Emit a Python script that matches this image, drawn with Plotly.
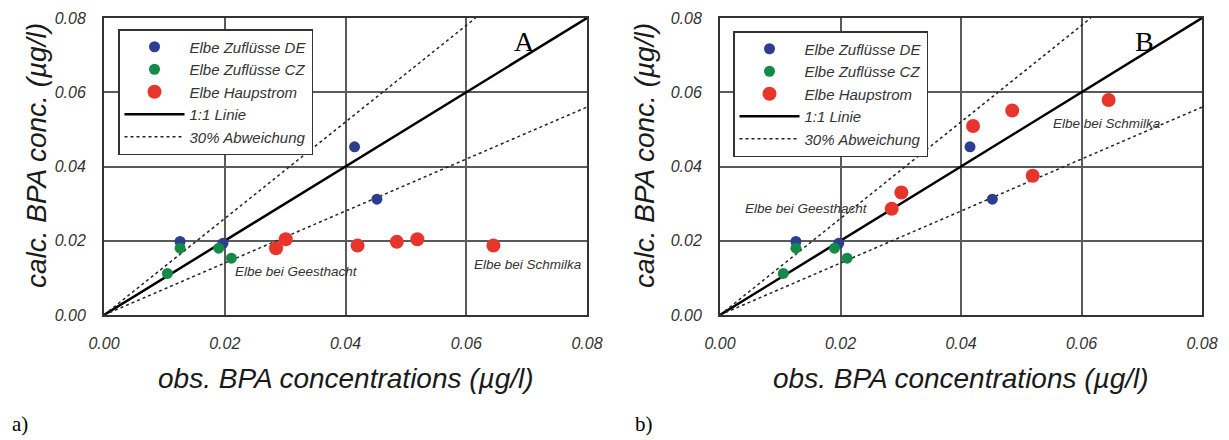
import plotly.graph_objects as go

# ---------------- data ----------------
de_obs = [0.0126, 0.0197, 0.0415, 0.0452]
de_calc = [0.0198, 0.0193, 0.0453, 0.0312]

cz_obs = [0.0126, 0.0190, 0.0211, 0.0105]
cz_calc = [0.0180, 0.0180, 0.0153, 0.0112]

main_obs = [0.0285, 0.0301, 0.0420, 0.0485, 0.0519, 0.0645]
main_calc_a = [0.0180, 0.0204, 0.0187, 0.0197, 0.0204, 0.0187]
main_calc_b = [0.0286, 0.0330, 0.0509, 0.0551, 0.0375, 0.0579]

axis_max = 0.08
dev = 0.30
tick_vals = [0.00, 0.02, 0.04, 0.06, 0.08]
tick_text = ["0.00", "0.02", "0.04", "0.06", "0.08"]

names = ["Elbe Zuflüsse DE", "Elbe Zuflüsse CZ", "Elbe Haupstrom", "1:1 Linie", "30% Abweichung"]

# ---------------- style ----------------
SANS = "Liberation Sans, Arial, sans-serif"
SERIF = "Liberation Serif, Times New Roman, serif"
C_DE = "#2c3d92"
C_CZ = "#148a48"
C_MAIN = "#e8352c"

PAGE_W, PAGE_H = 1229, 440
OFF = 8  # default page body margin
W, H = PAGE_W - OFF, PAGE_H - OFF


def px(p):
    return (p - OFF) / W


def py(p):
    return 1 - (p - OFF) / H


dom_a = [px(104), px(587)]
dom_b = [px(720), px(1202)]
dom_y = [py(315), py(18)]

fig = go.Figure()

one_x = [0, axis_max]
one_y = [0, axis_max]
dev_x = [0, axis_max / (1 + dev), None, 0, axis_max]
dev_y = [0, axis_max, None, 0, axis_max * (1 - dev)]


def add_panel(xa, ya, legend, main_calc):
    # lines first so that the points are drawn on top
    fig.add_trace(go.Scatter(x=one_x, y=one_y, mode="lines", name=names[3],
                             line=dict(color="black", width=2.5), xaxis=xa, yaxis=ya,
                             legend=legend, legendrank=4))
    fig.add_trace(go.Scatter(x=dev_x, y=dev_y, mode="lines", name=names[4],
                             line=dict(color="#222", width=1.5, dash="dot"), xaxis=xa, yaxis=ya,
                             legend=legend, legendrank=5))
    fig.add_trace(go.Scatter(x=de_obs, y=de_calc, mode="markers", name=names[0],
                             marker=dict(color=C_DE, size=11), xaxis=xa, yaxis=ya,
                             legend=legend, legendrank=1))
    fig.add_trace(go.Scatter(x=cz_obs, y=cz_calc, mode="markers", name=names[1],
                             marker=dict(color=C_CZ, size=11), xaxis=xa, yaxis=ya,
                             legend=legend, legendrank=2))
    fig.add_trace(go.Scatter(x=main_obs, y=main_calc, mode="markers", name=names[2],
                             marker=dict(color=C_MAIN, size=14), xaxis=xa, yaxis=ya,
                             legend=legend, legendrank=3))


add_panel("x", "y", "legend", main_calc_a)
add_panel("x2", "y2", "legend2", main_calc_b)

axis_common = dict(range=[0, axis_max], tickvals=tick_vals, ticktext=tick_text,
                   showgrid=True, gridcolor="#5a5a5a", gridwidth=1.5, zeroline=False,
                   showline=True, mirror=True, linecolor="#333", linewidth=2,
                   ticks="", tickfont=dict(family=SANS, size=16, color="#333", style="italic"))

fig.update_layout(
    width=W, height=H, margin=dict(l=0, r=0, t=0, b=0, autoexpand=False),
    paper_bgcolor="white", plot_bgcolor="white", showlegend=True,
    xaxis=dict(domain=dom_a, anchor="y", ticklabelstandoff=13, **axis_common),
    yaxis=dict(domain=dom_y, anchor="x", ticklabelstandoff=13, **axis_common),
    xaxis2=dict(domain=dom_b, anchor="y2", ticklabelstandoff=13, **axis_common),
    yaxis2=dict(domain=dom_y, anchor="x2", ticklabelstandoff=13, **axis_common),
)

legend_common = dict(bgcolor="white", bordercolor="#333", borderwidth=1.5,
                     font=dict(family=SANS, size=15, color="#333", style="italic"),
                     itemwidth=60, traceorder="normal",
                     xanchor="left", yanchor="top", xref="paper", yref="paper")
fig.update_layout(
    legend=dict(x=px(118), y=py(29), **legend_common),
    legend2=dict(x=px(733), y=py(31), **legend_common),
)

ann_font = dict(family=SANS, size=13.5, color="#333", style="italic")
title_font = dict(family=SANS, size=28, color="#1a1a1a", style="italic")
annotations = [
    # panel A
    dict(x=0.0319, y=0.0117, xref="x", yref="y", text="Elbe bei Geesthacht", showarrow=False, font=ann_font),
    dict(x=0.0703, y=0.0137, xref="x", yref="y", text="Elbe bei Schmilka", showarrow=False, font=ann_font),
    dict(x=0.0697, y=0.0738, xref="x", yref="y", text="A", showarrow=False,
         font=dict(family=SERIF, size=28, color="black")),
    # panel B
    dict(x=0.0144, y=0.0286, xref="x2", yref="y2", text="Elbe bei Geesthacht", showarrow=False, font=ann_font),
    dict(x=0.0643, y=0.0516, xref="x2", yref="y2", text="Elbe bei Schmilka", showarrow=False, font=ann_font),
    dict(x=0.0704, y=0.0738, xref="x2", yref="y2", text="B", showarrow=False,
         font=dict(family=SERIF, size=28, color="black")),
    # axis titles
    dict(x=0.5, y=py(378), xref="x domain", yref="paper", text="obs. BPA concentrations (µg/l)",
         showarrow=False, font=title_font, yanchor="middle"),
    dict(x=0.5, y=py(378), xref="x2 domain", yref="paper", text="obs. BPA concentrations (µg/l)",
         showarrow=False, font=title_font, yanchor="middle"),
    dict(x=px(36), y=0.535, xref="paper", yref="y domain", text="calc. BPA conc. (µg/l)",
         textangle=-90, showarrow=False, font=title_font, xanchor="center"),
    dict(x=px(644), y=0.535, xref="paper", yref="y2 domain", text="calc. BPA conc. (µg/l)",
         textangle=-90, showarrow=False, font=title_font, xanchor="center"),
    # panel labels
    dict(x=px(10), y=py(424), xref="paper", yref="paper", text="a)", showarrow=False,
         xanchor="left", yanchor="middle", font=dict(family=SERIF, size=21, color="black")),
    dict(x=px(633), y=py(424), xref="paper", yref="paper", text="b)", showarrow=False,
         xanchor="left", yanchor="middle", font=dict(family=SERIF, size=21, color="black")),
]
fig.update_layout(annotations=annotations)

fig.write_html("out.html")
